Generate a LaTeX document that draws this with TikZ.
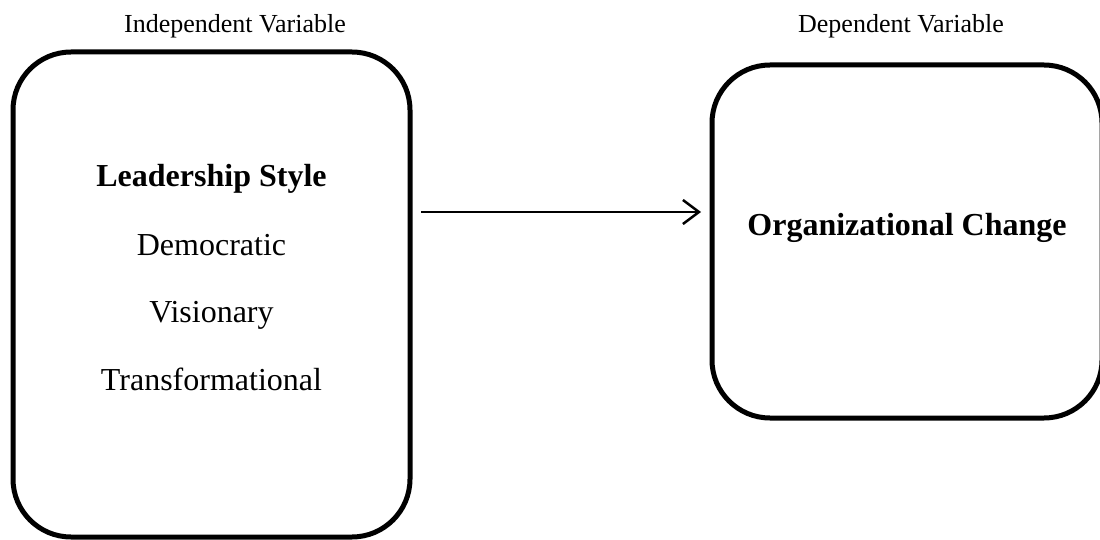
\documentclass[tikz,border=0pt]{standalone}
\usepackage{fontspec}
\setmainfont{Liberation Serif}
\usetikzlibrary{arrows.meta}
\begin{document}
\begin{tikzpicture}[x=1pt,y=-1pt,
  varbox/.style={draw=black,line width=5pt,rounded corners=58pt},
  toplabel/.style={font=\fontsize{26}{30}\selectfont,anchor=base},
  bigtext/.style={font=\fontsize{32}{36}\selectfont,anchor=base},
  bigbold/.style={font=\fontsize{32}{36}\selectfont\bfseries,anchor=base}]
\useasboundingbox (0,0) rectangle (1100,540);
\clip (0,0) rectangle (1100,540);
\fill[white] (0,0) rectangle (1100,540);
% boxes
\draw[varbox] (13,52) rectangle (410,537);
\draw[varbox] (712,65) rectangle (1102,418);
\coordinate (lbE) at (421,212);
\coordinate (rbW) at (701,212);
% labels
\node[toplabel] (ivlab) at (235,33) {Independent Variable};
\node[toplabel] (dvlab) at (901,33) {Dependent Variable};
\node[bigbold] (ls) at (211.5,187) {Leadership Style};
\node[bigtext] (dem) at (211.5,255) {Democratic};
\node[bigtext] (vis) at (211.5,322) {Visionary};
\node[bigtext] (tra) at (211.5,390) {Transformational};
\node[bigbold] (oc) at (907,235) {Organizational Change};
% arrow
\draw[line width=2pt,-{Straight Barb[length=16pt,width=24pt,line width=2.5pt]}] (lbE) -- (rbW);
\end{tikzpicture}
\end{document}
